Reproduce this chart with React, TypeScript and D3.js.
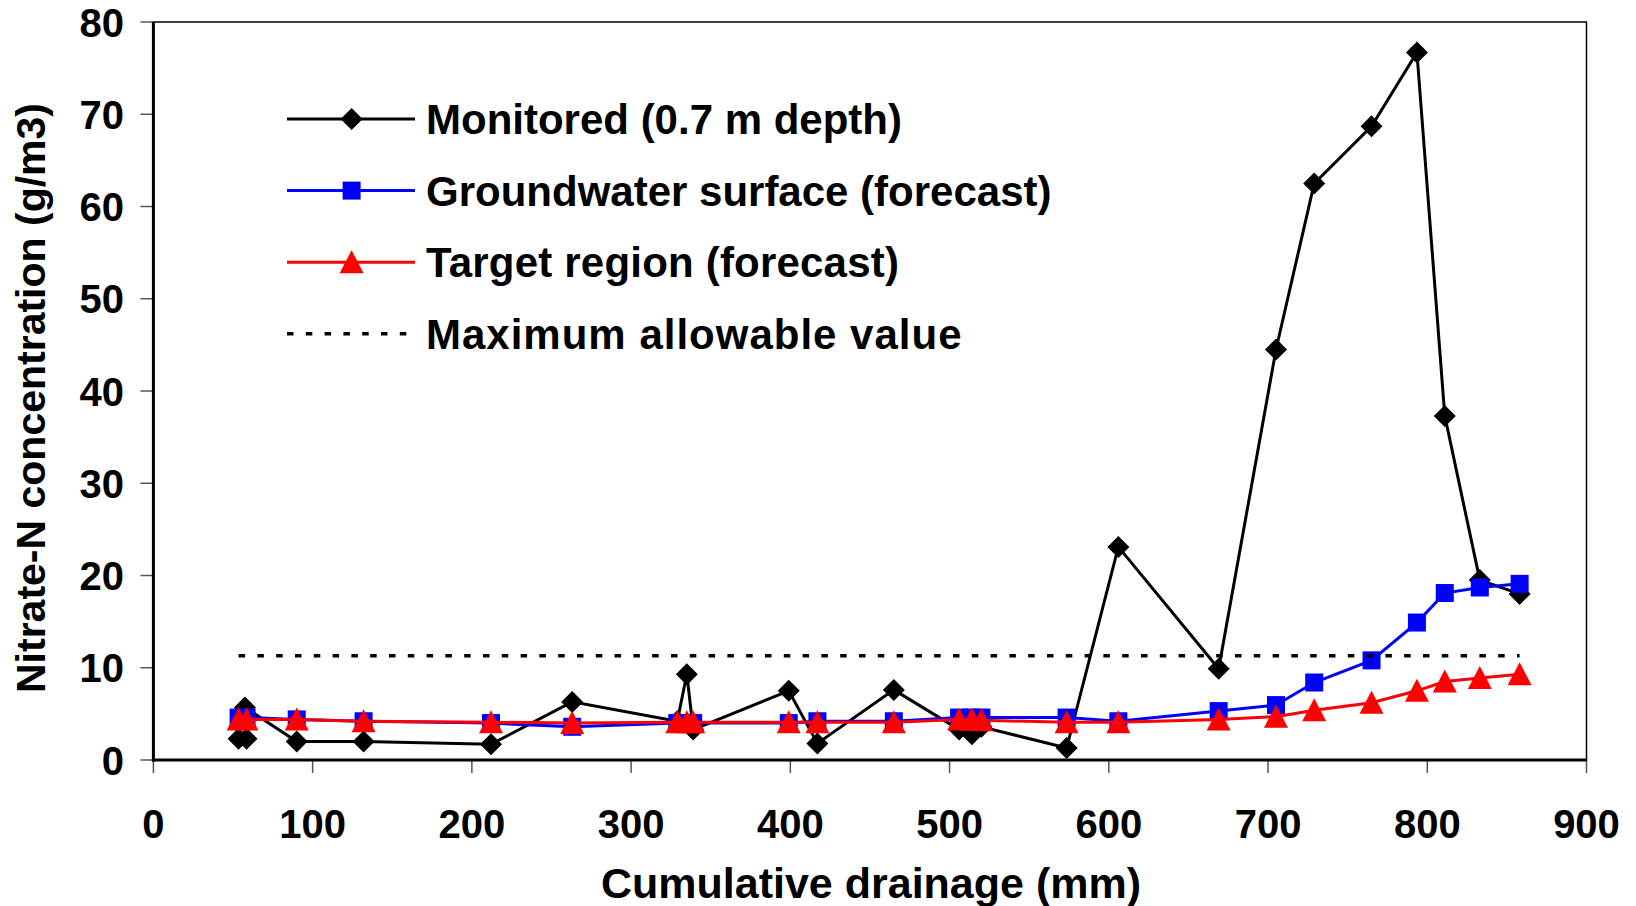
import React from "react"
import * as d3 from "d3"

// Monitored (0.7 m depth)
const monX = [53.5, 58.5, 57.5, 90, 132, 212, 263, 329, 335, 339, 399, 417, 465, 506, 514, 520, 573.5, 606, 669, 705, 729, 765, 793.5, 811, 833, 858]
const monY = [2.3, 2.3, 5.7, 2.0, 2.0, 1.7, 6.3, 4.2, 9.3, 3.3, 7.5, 1.8, 7.6, 3.3, 2.8, 3.6, 1.3, 23.1, 9.9, 44.5, 62.5, 68.7, 76.7, 37.3, 19.5, 18.0]

// forecast series share drainage values
const fcX = [53.5, 58.5, 90, 132, 212, 263, 329, 335, 339, 399, 417, 465, 506, 514, 520, 573.5, 606, 669, 705, 729, 765, 793.5, 811, 833, 858]
const gwY = [4.6, 4.6, 4.4, 4.2, 4.0, 3.6, 4.0, 4.0, 4.0, 4.0, 4.2, 4.2, 4.6, 4.6, 4.6, 4.6, 4.2, 5.3, 5.95, 8.4, 10.8, 14.9, 18.1, 18.7, 19.1]
const trY = [4.4, 4.4, 4.4, 4.2, 4.1, 4.0, 4.1, 4.1, 4.1, 4.1, 4.1, 4.1, 4.4, 4.4, 4.3, 4.1, 4.1, 4.4, 4.7, 5.4, 6.2, 7.5, 8.5, 8.9, 9.3]

const maxX = [53.5, 858]
const maxY = [11.3, 11.3]

const xTicks = [0, 100, 200, 300, 400, 500, 600, 700, 800, 900]
const yTicks = [0, 10, 20, 30, 40, 50, 60, 70, 80]

const legendLabels = [
    "Monitored (0.7 m depth)",
    "Groundwater surface (forecast)",
    "Target region (forecast)",
    "Maximum allowable value",
]

const font = "'Liberation Sans', Arial, sans-serif"

const diamond = (x: number, y: number) => `M${x},${y - 11}L${x + 11},${y}L${x},${y + 11}L${x - 11},${y}Z`
const triangle = (x: number, y: number) => `M${x},${y - 12}L${x + 12},${y + 11}L${x - 12},${y + 11}Z`

export default function App() {
    const width = 1636
    const height = 906
    const left = 153.4
    const right = 1586.5
    const top = 22
    const bottom = 760

    const x = d3.scaleLinear().domain([0, 900]).range([left, right])
    const y = d3.scaleLinear().domain([0, 80]).range([bottom, top])

    const line = (xs: number[], ys: number[]) =>
        d3.line<number>().x((_, i) => x(xs[i])).y((d) => y(d))(ys) || ""

    return (
        <svg
            width={width}
            height={height}
            style={{ position: "absolute", left: 0, top: 0, background: "#fff" }}
            fontFamily={font}
            fontWeight="bold"
        >
            <rect x={0} y={0} width={width} height={height} fill="#fff" />
            {/* plot area border */}
            <rect x={left} y={top} width={right - left} height={bottom - top} fill="none" stroke="#000" strokeWidth={1.5} />

            {/* ticks */}
            {yTicks.map((t) => (
                <g key={"y" + t}>
                    <line x1={left - 13} x2={left} y1={y(t)} y2={y(t)} stroke="#555" strokeWidth={1.5} />
                    <text x={124} y={y(t) + 14.5} fontSize={40} textAnchor="end">{t}</text>
                </g>
            ))}
            {xTicks.map((t) => (
                <g key={"x" + t}>
                    <line x1={x(t)} x2={x(t)} y1={bottom} y2={bottom + 13} stroke="#555" strokeWidth={1.5} />
                    <text x={x(t)} y={838} fontSize={40} textAnchor="middle">{t}</text>
                </g>
            ))}

            {/* axes */}
            <line x1={left} x2={left} y1={top} y2={bottom + 1.5} stroke="#000" strokeWidth={3} />
            <line x1={left - 1.5} x2={right} y1={bottom} y2={bottom} stroke="#000" strokeWidth={3} />

            {/* titles */}
            <text x={871} y={898} fontSize={43} textAnchor="middle">Cumulative drainage (mm)</text>
            <text transform="translate(45,398) rotate(-90)" fontSize={41} textAnchor="middle">Nitrate-N concentration (g/m3)</text>

            {/* monitored */}
            <path d={line(monX, monY)} fill="none" stroke="#000" strokeWidth={3} />
            {monY.map((v, i) => (
                <path key={"m" + i} d={diamond(x(monX[i]), y(v))} fill="#000" />
            ))}

            {/* groundwater */}
            <path d={line(fcX, gwY)} fill="none" stroke="#0000ff" strokeWidth={3} />
            {gwY.map((v, i) => (
                <rect key={"g" + i} x={x(fcX[i]) - 9} y={y(v) - 9} width={18} height={18} fill="#0000ff" />
            ))}

            {/* target */}
            <path d={line(fcX, trY)} fill="none" stroke="#ff0000" strokeWidth={3} />
            {trY.map((v, i) => (
                <path key={"t" + i} d={triangle(x(fcX[i]), y(v))} fill="#ff0000" />
            ))}

            {/* max allowable */}
            <path d={line(maxX, maxY)} fill="none" stroke="#000" strokeWidth={3.5} strokeDasharray="6.5 12.3" />

            {/* legend */}
            {legendLabels.map((label, i) => {
                const ly = 119 + i * 71.6
                const mx = 351.6
                return (
                    <g key={label}>
                        {i === 3 ? (
                            <line x1={287} x2={415} y1={ly} y2={ly} stroke="#000" strokeWidth={3.5} strokeDasharray="6.5 12.3" />
                        ) : (
                            <line x1={287} x2={415} y1={ly} y2={ly} stroke={["#000", "#0000ff", "#ff0000"][i]} strokeWidth={3} />
                        )}
                        {i === 0 && <path d={diamond(mx, ly)} fill="#000" />}
                        {i === 1 && <rect x={mx - 9} y={ly - 9} width={18} height={18} fill="#0000ff" />}
                        {i === 2 && <path d={triangle(mx, ly)} fill="#ff0000" />}
                        <text x={426} y={ly + 15} fontSize={42} letterSpacing={i === 3 ? 1 : i === 2 ? 0.2 : 0}>{label}</text>
                    </g>
                )
            })}
        </svg>
    )
}
